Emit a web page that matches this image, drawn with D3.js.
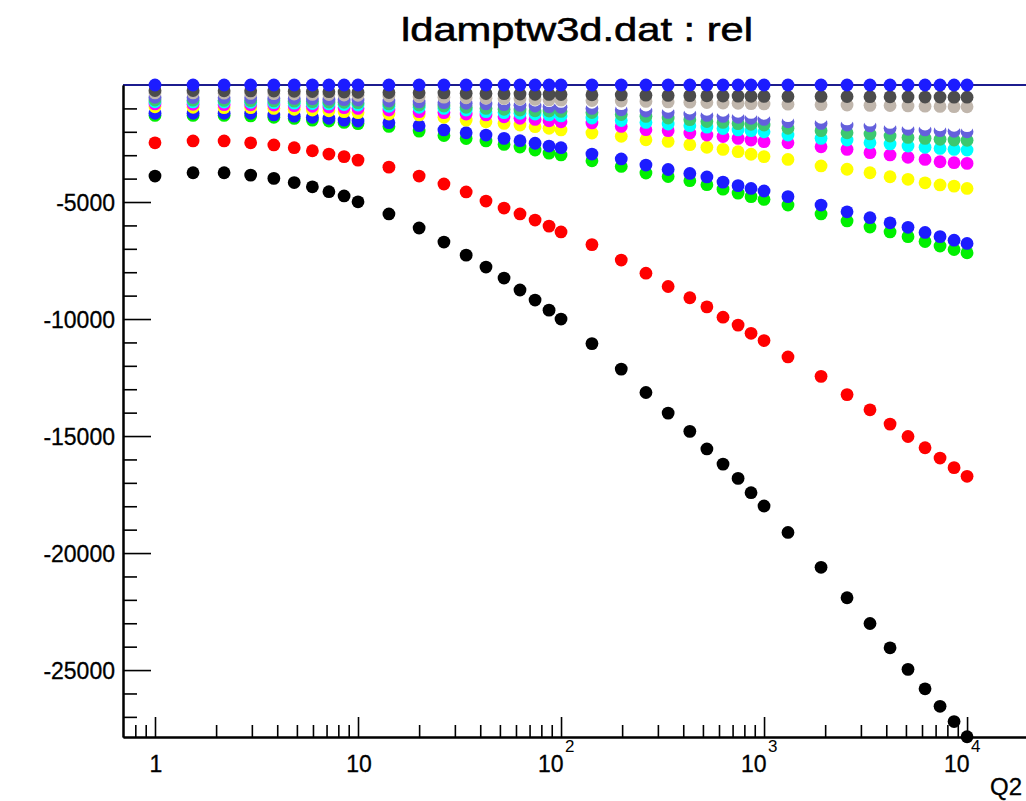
<!DOCTYPE html>
<html>
<head>
<meta charset="utf-8">
<script src="https://cdn.jsdelivr.net/npm/d3@7"></script>
<style>
  html, body { margin: 0; padding: 0; background: #ffffff; }
  svg { display: block; }
  text { font-family: "Liberation Sans", Arial, Helvetica, sans-serif; }
</style>
</head>
<body>
<svg id="chart" width="1026" height="801"></svg>
<script>
// ---------------- data ----------------
const titleText = "ldamptw3d.dat : rel";
const xTitle = "Q2";

const q2 = [1, 1.54, 2.19, 2.96, 3.85, 4.85, 5.96, 7.19, 8.54, 10,
            14.2, 20.0, 26.5, 34.1, 42.7, 52.4, 62.8, 74.5, 87.3, 100,
            142, 198, 262, 337, 431, 523, 628, 745, 863, 1000,
            1312, 1909, 2564, 3326, 4176, 5119, 6210, 7362, 8630, 10000];

const relBlack = [-3890, -3750, -3750, -3850, -3990, -4170, -4350, -4560, -4740, -4990,
                  -5510, -6110, -6710, -7270, -7780, -8250, -8760, -9190, -9620, -10000,
                  -11050, -12140, -13140, -14020, -14800, -15550, -16200, -16810, -17420, -17990,
                  -19120, -20610, -21910, -23010, -24050, -24970, -25800, -26550, -27200, -27850];

const relRed = [-2470, -2390, -2390, -2470, -2560, -2680, -2810, -2950, -3060, -3210,
                -3510, -3890, -4230, -4570, -4960, -5260, -5510, -5770, -6030, -6280,
                -6820, -7480, -8040, -8610, -9090, -9480, -9920, -10260, -10610, -10920,
                -11620, -12450, -13230, -13880, -14490, -15020, -15500, -15940, -16350, -16720];

const relGreen = [-1300, -1300, -1300, -1320, -1380, -1430, -1500, -1540, -1600, -1650,
                  -1770, -1970, -2160, -2290, -2390, -2540, -2650, -2780, -2910, -2990,
                  -3240, -3480, -3760, -3910, -4090, -4260, -4450, -4620, -4770, -4890,
                  -5130, -5510, -5810, -6070, -6280, -6480, -6690, -6880, -7030, -7170];

const relBlue = [-1210, -1210, -1210, -1210, -1280, -1330, -1380, -1420, -1500, -1540,
                 -1610, -1740, -1920, -2040, -2140, -2280, -2380, -2490, -2610, -2680,
                 -2950, -3160, -3420, -3610, -3780, -3930, -4150, -4300, -4420, -4530,
                 -4770, -5130, -5420, -5670, -5890, -6080, -6300, -6480, -6630, -6770];

const relYellow = [-930, -950, -970, -970, -1000, -1040, -1070, -1100, -1140, -1180,
                   -1240, -1280, -1380, -1500, -1570, -1640, -1710, -1780, -1850, -1920,
                   -2050, -2190, -2340, -2410, -2550, -2660, -2750, -2850, -2960, -3060,
                   -3180, -3460, -3600, -3750, -3920, -4030, -4180, -4270, -4320, -4420];

const relMagenta = [-810, -825, -840, -845, -855, -885, -910, -940, -970, -1000,
                    -1070, -1140, -1180, -1240, -1280, -1360, -1420, -1470, -1530, -1570,
                    -1620, -1770, -1910, -1950, -2050, -2140, -2200, -2280, -2350, -2420,
                    -2470, -2640, -2750, -2890, -2990, -3090, -3180, -3280, -3320, -3350];

const relCyan = [-715, -720, -730, -740, -755, -775, -790, -810, -835, -855,
                 -910, -950, -1000, -1070, -1140, -1180, -1210, -1240, -1280, -1320,
                 -1410, -1520, -1600, -1670, -1740, -1800, -1860, -1920, -1950, -2000,
                 -2140, -2280, -2350, -2470, -2520, -2610, -2660, -2710, -2750, -2780];

const relTeal = [-640, -650, -660, -670, -680, -690, -710, -730, -740, -755,
                 -810, -855, -900, -950, -1000, -1040, -1070, -1100, -1110, -1130,
                 -1175, -1260, -1340, -1410, -1480, -1560, -1600, -1650, -1680, -1710,
                 -1850, -1950, -2040, -2090, -2180, -2240, -2280, -2320, -2350, -2360];

const relPurple = [-525, -535, -545, -550, -565, -575, -590, -605, -625, -640,
                   -685, -725, -755, -780, -810, -840, -870, -900, -930, -950,
                   -1000, -1060, -1110, -1170, -1240, -1300, -1340, -1380, -1420, -1470,
                   -1570, -1640, -1710, -1750, -1850, -1890, -1920, -1950, -1980, -2000];

const relWhite = [-270, -280, -290, -295, -310, -320, -335, -350, -370, -385,
                  -430, -470, -500, -525, -555, -585, -610, -640, -670, -700,
                  -740, -800, -855, -910, -985, -1040, -1080, -1125, -1170, -1210,
                  -1310, -1380, -1450, -1500, -1600, -1640, -1670, -1700, -1720, -1740];

const relLightGray = [-340, -340, -350, -360, -370, -385, -400, -410, -430, -440,
                      -470, -500, -520, -545, -565, -580, -600, -615, -635, -650,
                      -665, -685, -700, -720, -735, -750, -770, -780, -795, -810,
                      -820, -840, -855, -870, -880, -895, -905, -915, -925, -930];

const relDarkGray = [-235, -235, -245, -250, -260, -270, -280, -285, -300, -310,
                     -320, -335, -340, -355, -365, -370, -385, -395, -400, -410,
                     -420, -425, -435, -445, -455, -460, -470, -475, -480, -485,
                     -490, -490, -495, -500, -505, -510, -515, -515, -520, -520];

const relRef = [0, 0, 0, 0, 0, 0, 0, 0, 0, 0,
                0, 0, 0, 0, 0, 0, 0, 0, 0, 0,
                0, 0, 0, 0, 0, 0, 0, 0, 0, 0,
                0, 0, 0, 0, 0, 0, 0, 0, 0, 0];

// drawing order = list order (later series on top)
const seriesList = [
  { name: "black",     values: relBlack,     color: "#000000" },
  { name: "red",       values: relRed,       color: "#ff0000" },
  { name: "green",     values: relGreen,     color: "#00f000" },
  { name: "blue",      values: relBlue,      color: "#1c1cff" },
  { name: "yellow",    values: relYellow,    color: "#ffff00" },
  { name: "magenta",   values: relMagenta,   color: "#ff00ff" },
  { name: "cyan",      values: relCyan,      color: "#00ffff" },
  { name: "teal",      values: relTeal,      color: "#3cc870" },
  { name: "purple",    values: relPurple,    color: "#6460dc" },
  { name: "white",     values: relWhite,     color: "#ffffff" },
  { name: "lightgray", values: relLightGray, color: "#c0b6ac" },
  { name: "darkgray",  values: relDarkGray,  color: "#4c4c4c" },
  { name: "ref",       values: relRef,       color: "#1c1cff" }
];

const yMajorTicks = [-25000, -20000, -15000, -10000, -5000];
const yTickLabels = ["-25000", "-20000", "-15000", "-10000", "-5000"];
const xMajorTicks = [1, 10, 100, 1000, 10000];
const xTickLabels = [["1", ""], ["10", ""], ["10", "2"], ["10", "3"], ["10", "4"]];

// ---------------- layout ----------------
const frame = { left: 123, right: 1030, top: 85, bottom: 737 };
const svg = d3.select("#chart");

const x = d3.scaleLog().domain([0.6957, 20420]).range([frame.left, frame.right]);
const y = d3.scaleLinear().domain([-27860, 0]).range([frame.bottom, frame.top]);

// title
svg.append("text")
  .attr("x", 577).attr("y", 41)
  .attr("text-anchor", "middle")
  .attr("font-size", 34)
  .attr("textLength", 352)
  .attr("lengthAdjust", "spacingAndGlyphs")
  .attr("fill", "#000")
  .attr("stroke", "#000").attr("stroke-width", 0.6)
  .text(titleText);

// top frame line (dark blue)
svg.append("line")
  .attr("x1", frame.left).attr("x2", frame.right)
  .attr("y1", y(0)).attr("y2", y(0))
  .attr("stroke", "#1c1c8f").attr("stroke-width", 2);

// ---------------- axes ----------------
const yMinorTicks = d3.range(-27000, 0, 1000).filter(v => v % 5000 !== 0);
const yAxisMinor = d3.axisLeft(y).tickValues(yMinorTicks).tickSize(-14).tickSizeOuter(0).tickFormat("");
const yAxisMajor = d3.axisLeft(y).tickValues(yMajorTicks).tickSize(-28).tickSizeOuter(0).tickPadding(8)
  .tickFormat((d, i) => yTickLabels[i]);

const gy1 = svg.append("g").attr("transform", `translate(${frame.left},0)`).call(yAxisMinor);
const gy2 = svg.append("g").attr("transform", `translate(${frame.left},0)`).call(yAxisMajor);
[gy1, gy2].forEach(g => {
  g.select(".domain").attr("stroke", "#000").attr("stroke-width", 2);
  g.selectAll(".tick line").attr("stroke", "#000").attr("stroke-width", 1.6);
});
gy2.selectAll(".tick text")
  .attr("font-size", 23)
  .attr("font-family", "Liberation Sans, Arial, sans-serif")
  .attr("fill", "#000")
  .attr("stroke", "#000").attr("stroke-width", 0.3)
  .attr("dy", "0.36em");

// X axis: ticks pointing up
const xMinorTicks = [];
[0.1, 1, 10, 100, 1000, 10000].forEach(dec => {
  [2, 3, 4, 5, 6, 7, 8, 9].forEach(m => {
    const v = dec * m;
    if (v > 0.75 && v < 20000) xMinorTicks.push(v);
  });
});
const xAxisMinor = d3.axisBottom(x).tickValues(xMinorTicks).tickSize(-12).tickSizeOuter(0).tickFormat("");
const xAxisMajor = d3.axisBottom(x).tickValues(xMajorTicks).tickSize(-20).tickSizeOuter(0).tickFormat("");
const gx1 = svg.append("g").attr("transform", `translate(0,${frame.bottom})`).call(xAxisMinor);
const gx2 = svg.append("g").attr("transform", `translate(0,${frame.bottom})`).call(xAxisMajor);
[gx1, gx2].forEach(g => {
  g.select(".domain").attr("stroke", "#000").attr("stroke-width", 2);
  g.selectAll(".tick line").attr("stroke", "#000").attr("stroke-width", 1.6);
});

// X tick labels (with superscript exponents)
const xl = svg.append("g").attr("class", "xlabels");
xMajorTicks.forEach((v, i) => {
  const [base, sup] = xTickLabels[i];
  const px = x(v);
  if (!sup) {
    xl.append("text").attr("x", px + 1).attr("y", 772)
      .attr("text-anchor", "middle").attr("font-size", 23).attr("fill", "#000")
      .attr("stroke", "#000").attr("stroke-width", 0.3)
      .text(base);
  } else {
    xl.append("text").attr("x", px + 2.5).attr("y", 772)
      .attr("text-anchor", "end").attr("font-size", 23).attr("fill", "#000")
      .attr("stroke", "#000").attr("stroke-width", 0.3)
      .text(base);
    xl.append("text").attr("x", px + 4).attr("y", 752)
      .attr("text-anchor", "start").attr("font-size", 17).attr("fill", "#000")
      .text(sup);
  }
});

// X axis title
svg.append("text")
  .attr("x", 1022).attr("y", 795)
  .attr("text-anchor", "end")
  .attr("font-size", 24)
  .attr("fill", "#000")
  .attr("stroke", "#000").attr("stroke-width", 0.3)
  .text(xTitle);

// ---------------- markers ----------------
const gp = svg.append("g").attr("class", "points");
seriesList.forEach(s => {
  gp.append("g").attr("class", "series-" + s.name)
    .selectAll("circle")
    .data(q2.map((q, i) => ({ q, v: s.values[i] })))
    .join("circle")
    .attr("cx", d => x(d.q))
    .attr("cy", d => y(d.v))
    .attr("r", 6.4)
    .attr("fill", s.color);
});
</script>
</body>
</html>
